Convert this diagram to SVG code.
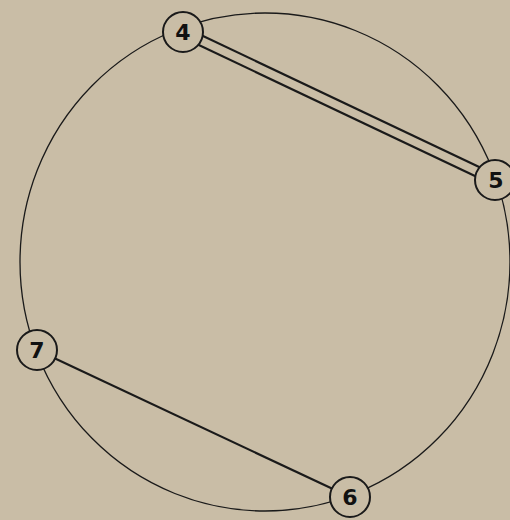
<svg xmlns="http://www.w3.org/2000/svg" width="510" height="520" viewBox="0 0 510 520">
<style>
.bg{fill:#c9bda6}
.ring{fill:none;stroke:#1a1a1a;stroke-width:1.3}
.edge{stroke:#1a1a1a;stroke-width:2.2;fill:none}
.node circle{fill:#c9bda6;stroke:#1a1a1a;stroke-width:2}
.node text{font-family:"DejaVu Sans",sans-serif;font-weight:bold;font-size:22px;fill:#111;text-anchor:middle;dominant-baseline:central}
</style>
<rect class="bg" x="0" y="0" width="510" height="520"/>
<g id="connectors">
<ellipse class="ring" cx="265" cy="262" rx="245" ry="249"/>
<line class="edge" x1="185.1" y1="27.5" x2="497.1" y2="175.5"/>
<line class="edge" x1="180.9" y1="36.5" x2="492.9" y2="184.5"/>
<line class="edge" x1="37" y1="350" x2="350" y2="497"/>
</g>
<g id="n4" class="node"><circle cx="183" cy="32" r="20"/><text x="183" y="32">4</text></g>
<g id="n5" class="node"><circle cx="495" cy="180" r="20"/><text x="496" y="180">5</text></g>
<g id="n7" class="node"><circle cx="37" cy="350" r="20"/><text x="37" y="350">7</text></g>
<g id="n6" class="node"><circle cx="350" cy="497" r="20"/><text x="350" y="497">6</text></g>
</svg>
